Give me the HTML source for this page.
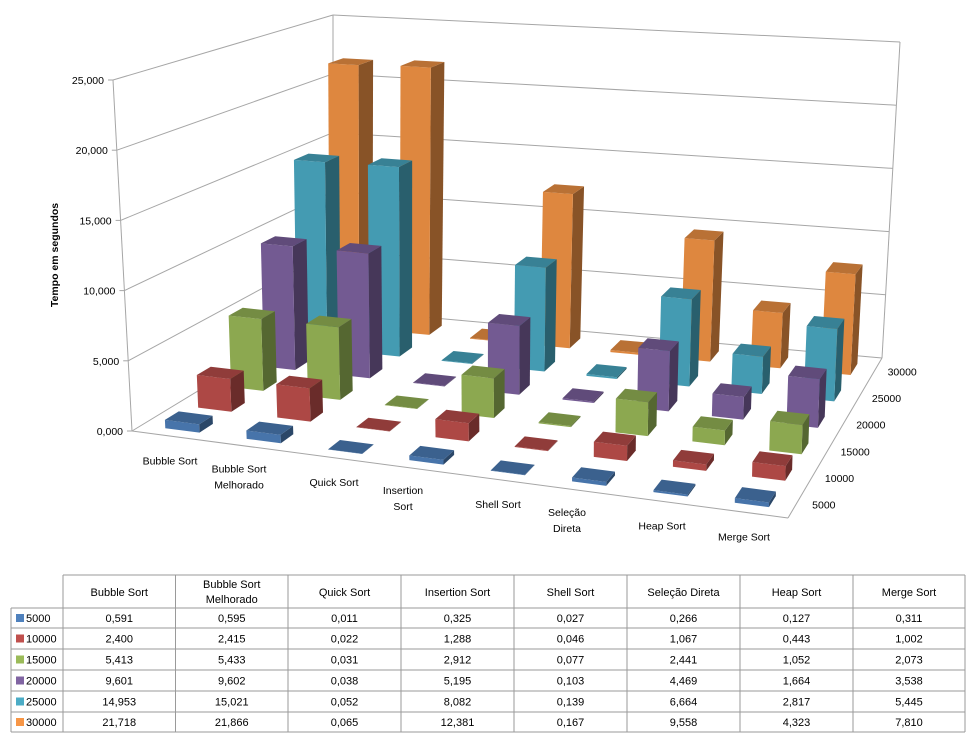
<!DOCTYPE html>
<html><head><meta charset="utf-8">
<style>
body{margin:0;background:#fff;width:970px;height:741px;overflow:hidden;font-family:"Liberation Sans",sans-serif;}
svg{position:absolute;left:0;top:0}
text{font-family:"Liberation Sans",sans-serif;font-size:10.5px;fill:#000}
text.tb{font-size:11px}
</style></head>
<body>
<svg id="chart" width="970" height="741"></svg>
<script>
const categories=["Bubble Sort","Bubble Sort Melhorado","Quick Sort","Insertion Sort","Shell Sort","Seleção Direta","Heap Sort","Merge Sort"];
const catLines=[["Bubble Sort"],["Bubble Sort","Melhorado"],["Quick Sort"],["Insertion","Sort"],["Shell Sort"],["Seleção","Direta"],["Heap Sort"],["Merge Sort"]];
const seriesNames=["5000","10000","15000","20000","25000","30000"];
const s5000=[0.591,0.595,0.011,0.325,0.027,0.266,0.127,0.311];
const s10000=[2.400,2.415,0.022,1.288,0.046,1.067,0.443,1.002];
const s15000=[5.413,5.433,0.031,2.912,0.077,2.441,1.052,2.073];
const s20000=[9.601,9.602,0.038,5.195,0.103,4.469,1.664,3.538];
const s25000=[14.953,15.021,0.052,8.082,0.139,6.664,2.817,5.445];
const s30000=[21.718,21.866,0.065,12.381,0.167,9.558,4.323,7.810];
const yTicks=[0,5,10,15,20,25];
const series=[s5000,s10000,s15000,s20000,s25000,s30000];
const colors=["#4F81BD","#C0504D","#9BBB59","#8064A2","#4BACC6","#F79646"];
const YMAX=25;
const NS="http://www.w3.org/2000/svg";
const svg=document.getElementById('chart');
const FL=[132,431],FR=[788,518],BL=[333,309],BR=[882,358];
const dFL=[-19,-351],dFR=[8,-378],dBL=[0,-294],dBR=[18,-316];
function bil(a,b,c,d,u,v){
  return [(1-u)*(1-v)*a[0]+u*(1-v)*b[0]+(1-u)*v*c[0]+u*v*d[0],
          (1-u)*(1-v)*a[1]+u*(1-v)*b[1]+(1-u)*v*c[1]+u*v*d[1]];}
function P(u,v,h){const f=bil(FL,FR,BL,BR,u,v);const d=bil(dFL,dFR,dBL,dBR,u,v);const k=h/YMAX;return [f[0]+d[0]*k,f[1]+d[1]*k];}
function el(tag,attrs){const e=document.createElementNS(NS,tag);for(const k in attrs)e.setAttribute(k,attrs[k]);svg.appendChild(e);return e;}
function line(a,b,name){const e=el('line',{x1:a[0],y1:a[1],x2:b[0],y2:b[1],stroke:'#a6a6a6','stroke-width':1});

}
function shade(hex,f){const n=parseInt(hex.slice(1),16);const r=Math.round(((n>>16)&255)*f),g=Math.round(((n>>8)&255)*f),b=Math.round((n&255)*f);return `rgb(${r},${g},${b})`;}
function poly(pts,fill,name){const e=el('polygon',{points:pts.map(p=>p.join(',')).join(' '),fill:fill});

return e;}
yTicks.forEach(t=>{
  line(P(0,0,t),P(0,1,t),'left-wall-gridline');
  line(P(0,1,t),P(1,1,t),'back-wall-gridline');
  const a=P(0,0,t);
  line([a[0]-5,a[1]],a,'y-tick');
  const tx=el('text',{x:a[0]-9,y:a[1]+4,'text-anchor':'end'});
  tx.textContent=(t===0?'0,000':t+',000');
  
  
});
line(P(0,0,0),P(0,0,YMAX),'y-axis-line');
line(P(0,1,0),P(0,1,YMAX),'back-left-edge');
line(P(1,1,0),P(1,1,YMAX),'back-right-edge');
line(P(0,0,0),P(1,0,0),'floor-front-edge');
line(P(1,0,0),P(1,1,0),'floor-right-edge');
const bw=0.42/8, bd=0.42/6;
for(let j=series.length-1;j>=0;j--){
  for(let i=0;i<categories.length;i++){
    const h=series[j][i];
    const uc=(i+0.5)/categories.length, vc=(j+0.5)/series.length;
    const u0=uc-bw/2,u1=uc+bw/2,v0=vc-bd/2,v1=vc+bd/2;
    const c=colors[j];
    const g=document.createElementNS(NS,'g');
    
    
    svg.appendChild(g);
    const side=poly([P(u1,v0,0),P(u1,v1,0),P(u1,v1,h),P(u1,v0,h)],shade(c,0.55),'bar-side');
    const front=poly([P(u0,v0,0),P(u1,v0,0),P(u1,v0,h),P(u0,v0,h)],shade(c,0.9),'bar-front');
    const top=poly([P(u0,v0,h),P(u1,v0,h),P(u1,v1,h),P(u0,v1,h)],shade(c,0.75),'bar-top');
    g.appendChild(side);g.appendChild(front);g.appendChild(top);
  }
}
catLines.forEach((ls,i)=>{
  const p=P((i+0.5)/8,0,0);
  const t=el('text',{x:0,y:0,'text-anchor':'middle'});
  
  
  if(ls.length===1){t.setAttribute('x',p[0]-3);t.setAttribute('y',p[1]+28);t.textContent=ls[0];}
  else{ls.forEach((s,k)=>{const ts=document.createElementNS(NS,'tspan');ts.setAttribute('x',p[0]-16);ts.setAttribute('y',p[1]+25+k*16);ts.textContent=s;t.appendChild(ts);});}
});
seriesNames.forEach((s,j)=>{
  const p=P(1,(j+0.5)/6,0);
  const t=el('text',{x:p[0]+28,y:p[1]+4,'text-anchor':'middle'});
  t.textContent=s;
  
  
});
const yt=el('text',{x:0,y:0,transform:'translate(58,255) rotate(-90)','text-anchor':'middle','font-weight':'bold'});
yt.textContent='Tempo em segundos';


const cols=[11,63,175.5,288,401,514,627,740,853,965];
const rows=[575,608,628,649,670,691,712,732];
const headLines=[["Bubble Sort"],["Bubble Sort","Melhorado"],["Quick Sort"],["Insertion Sort"],["Shell Sort"],["Seleção Direta"],["Heap Sort"],["Merge Sort"]];
function tline(x1,y1,x2,y2){const e=el('line',{x1,y1,x2,y2,stroke:'#9a9a9a','stroke-width':1});

}
tline(cols[1],rows[0],cols[9],rows[0]);
for(let r=1;r<rows.length;r++)tline(cols[0],rows[r],cols[9],rows[r]);
tline(cols[0],rows[1],cols[0],rows[7]);
for(let c=1;c<cols.length;c++)tline(cols[c],rows[0],cols[c],rows[7]);
headLines.forEach((ls,i)=>{
  const cx=(cols[i+1]+cols[i+2])/2;
  const t=el('text',{x:cx,y:0,'text-anchor':'middle','class':'tb'});
  
  
  if(ls.length===1){t.setAttribute('y',596);t.textContent=ls[0];}
  else ls.forEach((s,k)=>{const ts=document.createElementNS(NS,'tspan');ts.setAttribute('x',cx);ts.setAttribute('y',588+k*15);ts.textContent=s;t.appendChild(ts);});
});
series.forEach((vals,j)=>{
  const y=(rows[j+1]+rows[j+2])/2+4;
  const sq=el('rect',{x:16,y:y-8,width:8,height:8,fill:colors[j]});
  
  
  const lt=el('text',{x:26,y:y,'class':'tb'});lt.textContent=seriesNames[j];
  
  
  vals.forEach((v,i)=>{
    const t=el('text',{x:(cols[i+1]+cols[i+2])/2,y:y,'text-anchor':'middle','class':'tb'});
    t.textContent=v.toFixed(3).replace('.',',');
    
    
  });
});
</script>
</body></html>
